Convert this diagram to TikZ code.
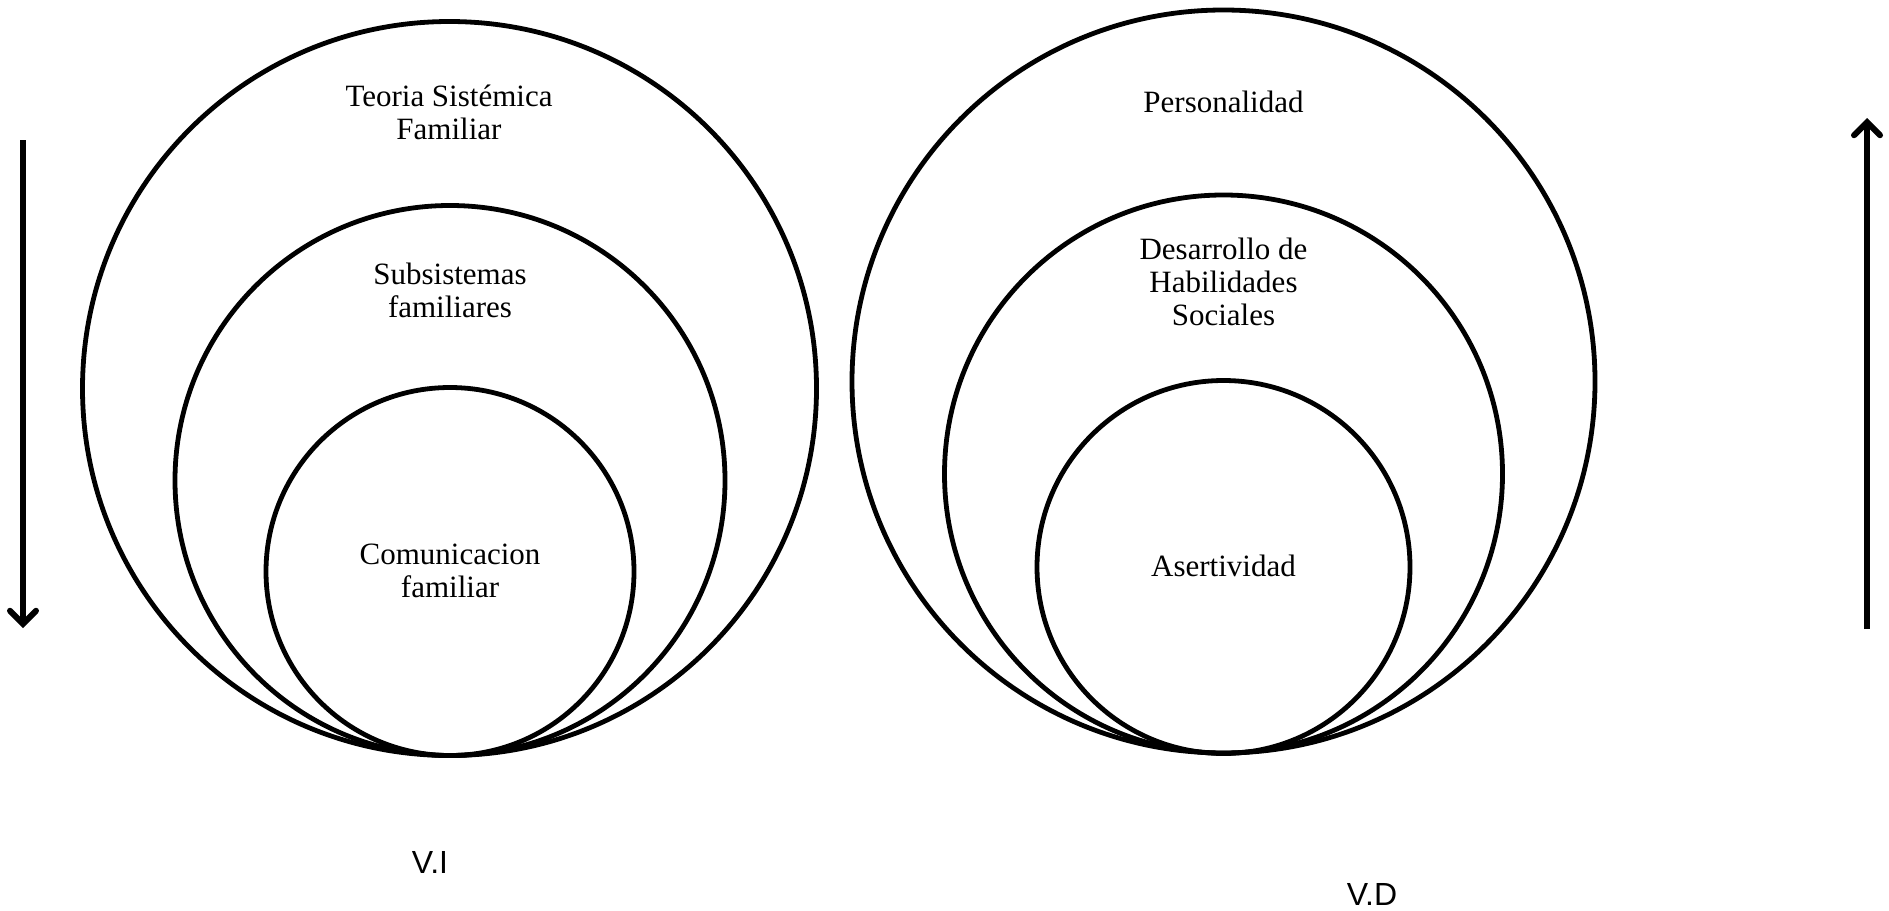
\documentclass[tikz,border=0pt]{standalone}
\usepackage{fontspec}
\setmainfont{Liberation Serif}
\setsansfont{Liberation Sans}
\usetikzlibrary{arrows.meta}
\begin{document}
\begin{tikzpicture}[x=1pt,y=-1pt,
  ring/.style={draw=black,line width=4.8pt,circle,inner sep=0pt,outer sep=0pt},
  lbl/.style={align=center,font=\fontsize{31}{33}\selectfont,inner sep=0pt},
  var/.style={font=\sffamily\fontsize{32}{34}\selectfont,inner sep=0pt},
  flow/.style={line width=6pt,-{Straight Barb[length=13pt,width=26pt,line cap=round]}}]
\useasboundingbox (0,0) rectangle (1889,910);
% left circles
\node[ring,minimum size=734pt] (L1) at (449.5,388.5) {};
\node[ring,minimum size=550pt] (L2) at (450,480.5) {};
\node[ring,minimum size=368pt] (L3) at (450,571.5) {};
% right circles
\node[ring,minimum size=743pt] (R1) at (1223.5,381.5) {};
\node[ring,minimum size=558pt] (R2) at (1223.5,474) {};
\node[ring,minimum size=373pt] (R3) at (1223.5,567) {};
% labels
\node[lbl] (t1) at (449,112) {Teoria Sistémica\\Familiar};
\node[lbl] (t2) at (450,290) {Subsistemas\\familiares};
\node[lbl] (t3) at (450,571) {Comunicacion\\familiar};
\node[lbl] (t4) at (1223.5,102) {Personalidad};
\node[lbl] (t5) at (1223.5,282) {Desarrollo de\\Habilidades\\Sociales};
\node[lbl] (t6) at (1223.5,566) {Asertividad};
\node[var] (vi) at (430,862) {V.I};
\node[var] (vd) at (1372,894) {V.D};
% arrows
\coordinate (a1) at (23,140);
\coordinate (a2) at (23,628);
\coordinate (b1) at (1867,629);
\coordinate (b2) at (1867,118);
\draw[flow] (a1) -- (a2);
\draw[flow] (b1) -- (b2);
\end{tikzpicture}
\end{document}
